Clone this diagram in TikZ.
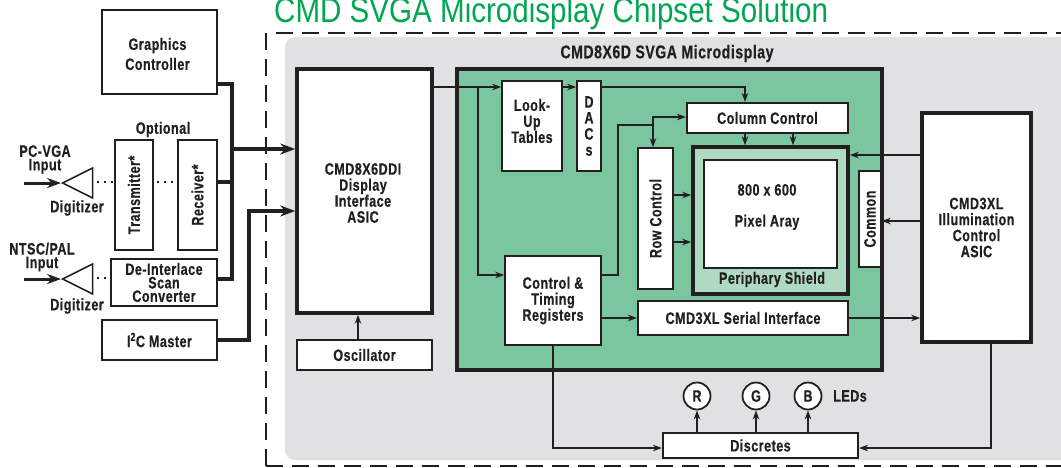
\documentclass[tikz,border=0pt]{standalone}
\usepackage{fontspec}
\setmainfont[FakeStretch=0.76,LetterSpace=3,BoldFeatures={FakeBold=0.5}]{Liberation Sans}
\newfontfamily\titlefont[FakeStretch=0.845]{Liberation Sans}
\usetikzlibrary{arrows.meta,shapes.geometric,calc}
\definecolor{ink}{HTML}{231F20}
\definecolor{panel}{HTML}{E0E1E3}
\definecolor{chip}{HTML}{7BC6A0}
\definecolor{shield}{HTML}{AEDAC2}
\definecolor{titlegreen}{HTML}{00A651}
\tikzset{
  x=1pt,y=-1pt,
  every node/.style={text=ink,font=\bfseries\fontsize{16.5}{16}\selectfont,align=center,inner sep=0pt},
  box/.style={draw=ink,fill=white,line width=1.6pt},
  boxm/.style={box,line width=2.2pt},
  boxh/.style={box,line width=3.6pt},
  wire/.style={draw=ink,line width=1.6pt},
  arw/.style={wire,-{Stealth[length=9pt,width=6.5pt]}},
  bus/.style={draw=ink,line width=4pt},
  busarw/.style={bus,-{Stealth[length=15pt,width=11pt]}},
  dots/.style={draw=ink,line width=2pt,dash pattern=on 2pt off 5pt},
  fence/.style={draw=ink,line width=1.3pt,dash pattern=on 17pt off 9pt},
  led/.style={circle,draw=ink,fill=white,line width=1.8pt,minimum size=27pt},
  digit/.style={isosceles triangle,isosceles triangle apex angle=54,isosceles triangle stretches,shape border rotate=180,draw=ink,fill=white,line width=1.5pt,minimum width=30pt,minimum height=30pt,anchor=apex},
  tight/.style={font=\bfseries\fontsize{16.5}{13.5}\selectfont},
}
\begin{document}
\begin{tikzpicture}
\useasboundingbox (0,0) rectangle (1061,467);
\fill[white] (0,0) rectangle (1061,467);
% panel and fence
\fill[panel,rounded corners=10pt] (285,37) rectangle (1075,460);
\coordinate (fTL) at (266,33); \coordinate (fTR) at (1061,33);
\coordinate (fBL) at (266,466); \coordinate (fBR) at (1061,466);
\draw[fence] (fTL) -- (fBL);
\draw[fence] ($(fTL)+(10,0)$) -- (fTR);
\draw[fence] (fBL) -- (fBR);
\node[anchor=base west,text=titlegreen,font=\titlefont\fontsize{35}{36}\selectfont] (title) at (274,22) {CMD SVGA Microdisplay Chipset Solution};
% chip
\node[draw=ink,fill=chip,line width=4pt,minimum width=425pt,minimum height=301pt] (chipbox) at (669.5,219.5) {};
\node[font=\bfseries\fontsize{18.5}{18}\selectfont] (chiptitle) at (667,53.5) {CMD8X6D SVGA Microdisplay};
% left column
\node[box,minimum width=115pt,minimum height=84pt] (gc) at (159.5,52) {};
\node[font=\bfseries\fontsize{16.5}{20}\selectfont] (gcl) at (157.5,54) {Graphics\\Controller};
\node (opt) at (163,129.5) {Optional};
\node[box,minimum width=38pt,minimum height=110pt] (tx) at (134,195) {\rotatebox{90}{Transmitter*}};
\node[box,minimum width=39pt,minimum height=110pt] (rx) at (197.5,195) {\rotatebox{90}{Receiver*}};
\node[box,tight,minimum width=106pt,minimum height=47pt] (scan) at (164,282.5) {De-Interlace\\Scan\\Converter};
\node[box,minimum width=115pt,minimum height=40pt] (i2c) at (159.5,340) {I\textsuperscript{2}C Master};
\node[tight] (pc) at (45,159.5) {PC-VGA\\Input};
\node[tight] (ntsc) at (42,257) {NTSC/PAL\\Input};
\node (dg1) at (77,208) {Digitizer};
\node (dg2) at (77,306) {Digitizer};
\node[digit] (t1) at (61,183) {};
\node[digit] (t2) at (61,279) {};
\coordinate (in1) at (24,183); \coordinate (in2) at (24,279);
\draw[bus,line width=3pt,-{Stealth[length=14pt,width=10pt]}] (in1) -- (t1.apex);
\draw[bus,line width=3pt,-{Stealth[length=14pt,width=10pt]}] (in2) -- (t2.apex);
\draw[dots] (t1.east |- 0,182) ++(4,0) -- (tx.west |- 0,182);
\draw[dots] (tx.east |- 0,182) ++(3,0) -- (rx.west |- 0,182);
\draw[dots] (t2.east |- 0,278) ++(4,0) -- (scan.west |- 0,278);
% asic
\node[boxh,minimum width=135pt,minimum height=244pt] (asic) at (364.5,191) {};
\node (asicl) at (363,193) {CMD8X6DDI\\Display\\Interface\\ASIC};
\node[box,minimum width=135pt,minimum height=30pt] (osc) at (364.5,355) {Oscillator};
\draw[arw] (osc.north -| 358,0) -- (asic.south -| 358,0);
% buses
\coordinate (b1) at (232,149); \coordinate (b2) at (249,211);
\draw[bus,line join=miter] (gc.east |- 0,84) -- (b1 |- 0,84) -- (b1 |- 0,279) -- (scan.east |- 0,279);
\draw[bus] (rx.east |- 0,182) -- (b1 |- 0,182);
\draw[busarw] (b1) -- (asic.west |- b1);
\draw[bus,line join=miter] (i2c.east |- 0,340) -- (b2 |- 0,340) -- (b2) -- ($(b2)+(20,0)$);
\draw[busarw] (b2) -- (asic.west |- b2);
% chip internals
\node[box,minimum width=60pt,minimum height=90pt] (lut) at (532,126) {};
\node (lutl) at (532,121) {Look-\\Up\\Tables};
\node[box,minimum width=24pt,minimum height=90pt] (dac) at (589,126) {D\\A\\C\\s};
\node[box,minimum width=96pt,minimum height=89pt] (ctl) at (553,300.5) {Control \&\\Timing\\Registers};
\node[boxm,minimum width=161pt,minimum height=30pt] (col) at (767.5,118) {Column Control};
\node[box,minimum width=35pt,minimum height=141pt] (row) at (655.5,218.5) {\rotatebox{90}{Row Control}};
\node[draw=ink,fill=shield,line width=3.6pt,minimum width=155pt,minimum height=147pt] (sh) at (770.5,220.5) {};
\node[box,fill=white,minimum width=133pt,minimum height=108pt] (px) at (770.5,214) {};
\node (pxl) at (767,207) {800 x 600\\[15pt]Pixel Aray};
\node (shl) at (772,279.5) {Periphary Shield};
\node[box,minimum width=22pt,minimum height=96pt] (com) at (870,219) {\rotatebox{90}{Common}};
\node[boxm,minimum width=210pt,minimum height=34pt] (ser) at (743,318) {CMD3XL Serial Interface};
\node[boxh,minimum width=109pt,minimum height=229pt] (xl) at (976.5,227.5) {CMD3XL\\Illumination\\Control\\ASIC};
\node[boxm,minimum width=195pt,minimum height=25pt] (dis) at (760.5,445.5) {Discretes};
\node[led] (r) at (697,396) {R};
\node[led] (g) at (756,396) {G};
\node[led] (b) at (808,396) {B};
\node (leds) at (850,396) {LEDs};
% thin connectors
\coordinate (jl) at (478,87); \coordinate (jc) at (653,117); \coordinate (jr) at (618,125);
\draw[arw] (asic.east |- jl) -- (lut.west |- jl);
\draw[arw] (jl) |- (ctl.west |- 0,275);
\draw[arw] (lut.east |- jl) -- (dac.west |- jl);
\draw[arw] (dac.east |- jl) -| (col.north -| 745,0);
\draw[wire] (ctl.east |- 0,275) -| (jr) -- (jr -| jc);
\draw[arw] (jc |- jr) -- (jc) -- (col.west |- jc);
\draw[arw] (jc) -- (row.north -| jc);
\draw[arw] (col.south -| 745,0) -- (sh.north -| 745,0);
\draw[arw] (col.south -| 793,0) -- (sh.north -| 793,0);
\draw[arw] (row.east |- 0,195) -- (sh.west |- 0,195);
\draw[arw] (row.east |- 0,242) -- (sh.west |- 0,242);
\draw[arw] (xl.west |- 0,155) -- (sh.east |- 0,155);
\draw[arw] (xl.west |- 0,221) -- (com.east |- 0,221);
\draw[arw] (ser.east |- 0,318) -- (xl.west |- 0,318);
\draw[arw] (ctl.east |- 0,318) -- (ser.west |- 0,318);
\draw[arw] (ctl.south) |- (dis.west |- 0,448);
\draw[arw] (xl.south -| 991,0) |- (dis.east |- 0,448);
\draw[arw] (dis.north -| r) -- (r.south);
\draw[arw] (dis.north -| g) -- (g.south);
\draw[arw] (dis.north -| b) -- (b.south);
\end{tikzpicture}
\end{document}
